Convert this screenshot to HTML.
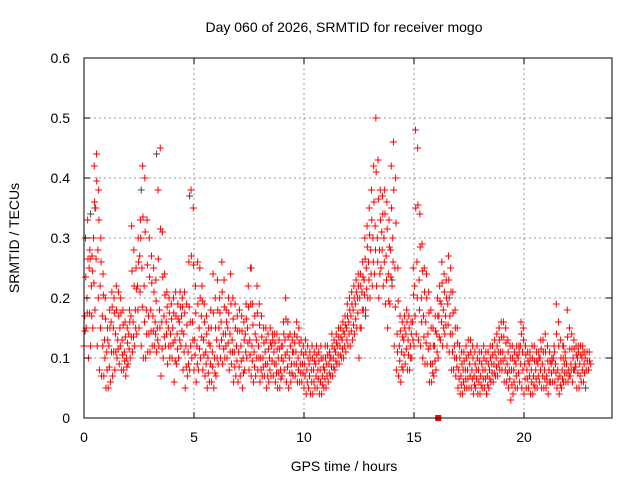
<!DOCTYPE html>
<html><head><meta charset="utf-8"><style>
html,body{margin:0;padding:0;background:#fff}
svg{display:block;font-family:"Liberation Sans",sans-serif}
</style></head><body>
<svg id="chart" width="640" height="480">
<text x="344" y="32" font-size="14" text-anchor="middle">Day 060 of 2026, SRMTID for receiver mogo</text>
<text x="344" y="471" font-size="14" text-anchor="middle">GPS time / hours</text>
<text transform="translate(19,238) rotate(-90)" font-size="14" text-anchor="middle">SRMTID / TECUs</text>
<g id="grid"></g>
<g id="marks"></g>
<rect x="84" y="58" width="528" height="360" fill="none" stroke="#000" stroke-width="1"/>
<g id="ticks"></g>
</svg>
<script>
const xTicks=[0,5,10,15,20];
const yTicks=[0,0.1,0.2,0.3,0.4,0.5,0.6];
const yTickLabels=["0","0.1","0.2","0.3","0.4","0.5","0.6"];
const tStart=0, tStep=0.1;
const lo=[.12,.15,.10,.12,.15,.18,.12,.08,.07,.07,.05,.05,.06,.07,.08,.10,.09,.08,.08,.07,.09,.10,.11,.12,.14,.15,.12,.10,.10,.11,.11,.12,.12,.11,.12,.07,.10,.12,.09,.10,.10,.06,.09,.10,.12,.08,.05,.07,.08,.10,.08,.06,.08,.10,.08,.07,.05,.06,.06,.05,.07,.09,.10,.09,.10,.10,.08,.09,.06,.07,.06,.07,.05,.08,.10,.08,.07,.06,.07,.08,.06,.07,.07,.05,.06,.07,.07,.06,.05,.05,.07,.08,.06,.05,.06,.07,.07,.06,.06,.06,.05,.04,.05,.04,.04,.05,.05,.04,.04,.05,.05,.06,.07,.07,.08,.09,.09,.10,.10,.11,.12,.12,.13,.14,.15,.10,.15,.18,.18,.20,.20,.22,.24,.22,.20,.25,.22,.19,.15,.19,.22,.12,.08,.07,.06,.08,.09,.08,.08,.10,.12,.14,.13,.12,.10,.09,.09,.06,.06,.07,.08,.10,.13,.12,.14,.12,.11,.08,.08,.07,.05,.04,.04,.05,.05,.05,.05,.04,.05,.04,.04,.05,.05,.04,.05,.06,.06,.07,.07,.08,.08,.06,.06,.05,.03,.04,.05,.05,.06,.05,.04,.05,.05,.04,.04,.05,.05,.06,.05,.05,.05,.04,.06,.06,.06,.05,.04,.05,.06,.06,.06,.07,.06,.08,.05,.05,.06,.06];
const mid=[.17,.20,.25,.22,.30,.35,.28,.22,.17,.13,.11,.12,.16,.15,.14,.13,.15,.13,.11,.10,.14,.17,.16,.18,.22,.27,.25,.22,.18,.17,.18,.17,.16,.15,.18,.16,.17,.16,.15,.14,.15,.13,.14,.16,.17,.14,.12,.11,.16,.16,.13,.12,.15,.17,.13,.11,.10,.12,.11,.10,.13,.15,.16,.14,.14,.15,.14,.13,.11,.12,.11,.12,.10,.14,.15,.13,.12,.11,.13,.12,.10,.10,.11,.09,.10,.12,.11,.09,.10,.08,.12,.13,.11,.10,.09,.11,.11,.10,.09,.09,.09,.08,.09,.08,.08,.09,.08,.08,.07,.08,.09,.09,.10,.10,.11,.12,.12,.13,.14,.15,.16,.17,.18,.19,.20,.20,.21,.23,.25,.26,.28,.30,.32,.30,.28,.31,.30,.27,.24,.28,.30,.25,.14,.12,.11,.13,.14,.13,.12,.16,.22,.26,.23,.20,.17,.16,.14,.12,.09,.12,.14,.17,.19,.18,.17,.19,.17,.14,.12,.10,.08,.07,.08,.08,.08,.09,.08,.07,.08,.08,.07,.08,.08,.07,.08,.09,.09,.10,.11,.11,.11,.10,.09,.08,.08,.08,.09,.10,.12,.11,.09,.08,.09,.08,.07,.08,.09,.10,.09,.08,.07,.08,.09,.10,.09,.08,.07,.08,.09,.09,.08,.09,.10,.09,.10,.09,.10,.09,.08,.08,.09];
const hi=[.30,.33,.28,.27,.42,.44,.38,.30,.24,.20,.15,.18,.21,.20,.22,.21,.20,.18,.16,.15,.18,.32,.28,.25,.30,.33,.42,.40,.33,.30,.27,.25,.23,.38,.45,.31,.24,.21,.20,.19,.20,.21,.19,.21,.20,.21,.19,.26,.38,.35,.22,.26,.25,.22,.19,.17,.15,.18,.24,.20,.23,.20,.26,.23,.18,.20,.24,.20,.19,.17,.18,.17,.16,.19,.22,.25,.19,.17,.22,.19,.17,.15,.15,.14,.15,.14,.14,.14,.13,.12,.16,.20,.16,.14,.13,.14,.16,.15,.13,.12,.13,.12,.11,.12,.11,.12,.11,.12,.10,.12,.12,.11,.14,.13,.14,.15,.15,.16,.17,.19,.20,.21,.22,.23,.24,.24,.26,.30,.32,.35,.38,.42,.50,.43,.38,.37,.38,.36,.33,.42,.46,.40,.25,.17,.16,.17,.18,.17,.16,.25,.48,.45,.34,.29,.25,.24,.21,.18,.15,.17,.20,.22,.26,.24,.23,.27,.25,.21,.18,.15,.12,.11,.11,.12,.13,.13,.12,.11,.12,.11,.11,.12,.11,.11,.12,.12,.13,.14,.15,.16,.16,.15,.13,.12,.12,.11,.12,.12,.16,.15,.12,.11,.11,.12,.12,.11,.11,.13,.13,.14,.12,.11,.10,.12,.19,.16,.13,.12,.11,.18,.15,.14,.13,.12,.12,.12,.12,.11,.11,.11];
const grayT=[0.3,0.5,2.6,3.3,4.8,7.6,12.8,14.0,16.6,18.3,21.8,22.8];
const grayV=[0.34,0.35,0.38,0.44,0.37,0.25,0.17,0.23,0.20,0.04,0.12,0.05];
const gapMarkT=[16.1];
const gapMarkV=[0];

const NS="http://www.w3.org/2000/svg";
const X0=84,X1=612,Y0=418,Y1=58,XMAX=24,YMAX=0.6;
const xs=t=>X0+(t/XMAX)*(X1-X0);
const ys=v=>Y0-(v/YMAX)*(Y0-Y1);
const grid=document.getElementById('grid'),ticks=document.getElementById('ticks'),marks=document.getElementById('marks');
function mk(tag,a,parent){const e=document.createElementNS(NS,tag);for(const k in a)e.setAttribute(k,a[k]);parent.appendChild(e);return e;}
xTicks.forEach(t=>{
  const x=xs(t);
  if(t>0){const g=mk('line',{x1:x,x2:x,y1:Y1,y2:Y0,stroke:'#999','stroke-dasharray':'2,3'},grid);
  
  }
  mk('line',{x1:x,x2:x,y1:Y0,y2:Y0-6,stroke:'#000'},ticks);
  mk('line',{x1:x,x2:x,y1:Y1,y2:Y1+6,stroke:'#000'},ticks);
  const l=mk('text',{x:x,y:Y0+24,'font-size':14,'text-anchor':'middle'},ticks);l.textContent=t;
  
  
});
yTicks.forEach((v,i)=>{
  const y=ys(v);
  if(v>0&&v<YMAX){const g=mk('line',{x1:X0,x2:X1,y1:y,y2:y,stroke:'#999','stroke-dasharray':'2,3'},grid);
  
  }
  mk('line',{x1:X0,x2:X0+6,y1:y,y2:y,stroke:'#000'},ticks);
  mk('line',{x1:X1,x2:X1-6,y1:y,y2:y,stroke:'#000'},ticks);
  const l=mk('text',{x:X0-14,y:y+5,'font-size':14,'text-anchor':'end'},ticks);l.textContent=yTickLabels[i];
  
  
});
function plus(t,v,color){
  const x=xs(t),y=ys(v);
  const p=mk('path',{d:`M${x-3.5},${y}H${x+3.5}M${x},${y-3.5}V${y+3.5}`,stroke:color,'stroke-width':1,fill:'none'},marks);
  
  
}
grayT.forEach((t,i)=>plus(t,grayV[i],'#444'));
[[lo,0],[mid,0.033],[hi,0.066]].forEach(([arr,off])=>{
  arr.forEach((v,i)=>plus(tStart+i*tStep+off,v,'#f00'));
});
mid.forEach((v,i)=>plus(tStart+i*tStep+0.05,(v+lo[i])/2,'#f00'));
mid.forEach((v,i)=>plus(tStart+i*tStep+0.08,(v+hi[i])/2,'#f00'));
gapMarkT.forEach((t,i)=>{
  const r=mk('rect',{x:xs(t)-3,y:ys(gapMarkV[i])-3,width:6,height:6,fill:'#f00'},marks);
  
  
});
</script>
</body></html>
